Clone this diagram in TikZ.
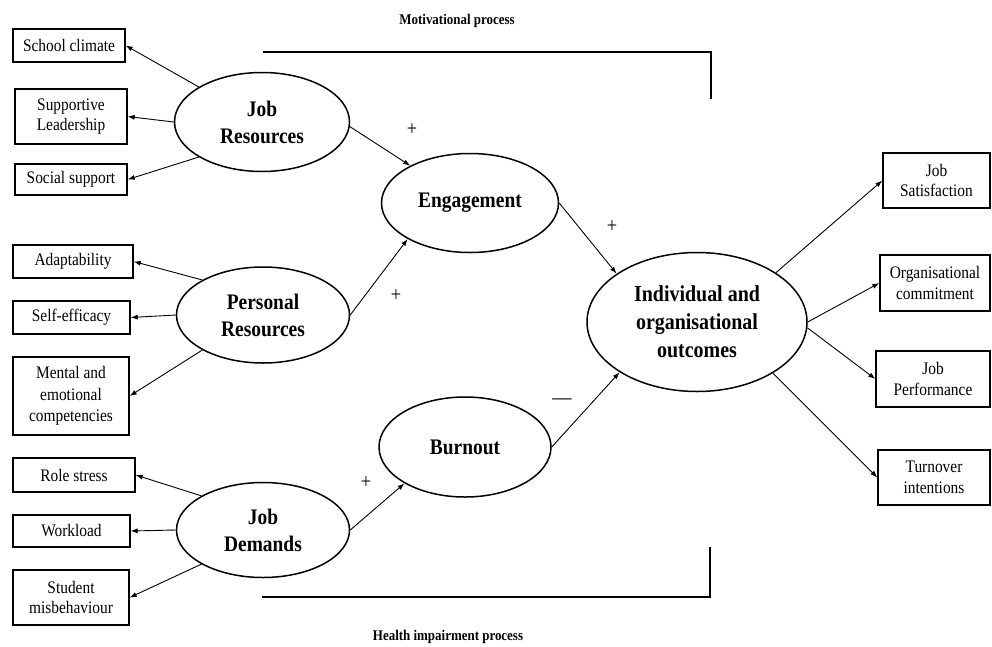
\documentclass[tikz,border=0pt]{standalone}
\usepackage{fontspec}
\setmainfont{Liberation Serif}[FakeStretch=0.875]
\usetikzlibrary{shapes.geometric,arrows.meta}

\tikzset{
  itembox/.style={draw, line width=1.3pt, rectangle, inner sep=0pt, align=center,
    font=\fontsize{17.6}{20.5}\selectfont},
  construct/.style={draw, line width=1.5pt, ellipse, inner sep=0pt, align=center,
    font=\fontsize{22.2}{27}\selectfont\bfseries},
  link/.style={line width=0.9pt, -{Latex[length=7pt,width=5pt]}},
  bracket/.style={line width=1.3pt},
  sign/.style={font=\fontsize{21}{21}\selectfont},
  caption/.style={font=\fontsize{14.8}{15}\selectfont\bfseries}
}

\begin{document}
\begin{tikzpicture}[x=1pt,y=-1pt]
\useasboundingbox (0,0) rectangle (992,646);

% latent constructs
\node[construct, minimum width=175pt, minimum height=99pt] (jr) at (262,122) {Job\\Resources};
\node[construct, minimum width=173pt, minimum height=96pt] (pr) at (263,315) {Personal\\Resources};
\node[construct, minimum width=173pt, minimum height=95pt] (jd) at (263,530) {Job\\Demands};
\node[construct, minimum width=177pt, minimum height=99pt] (eng) at (470,203) {Engagement};
\node[construct, minimum width=172pt, minimum height=100pt] (bo) at (465,447) {Burnout};
\node[construct, minimum width=220pt, minimum height=139pt, font=\fontsize{22.8}{28}\selectfont\bfseries] (ind) at (697,322) {Individual and\\organisational\\outcomes};

% indicators on the left
\node[itembox, minimum width=112pt, minimum height=33pt] (sc) at (69,45.5) {School climate};
\node[itembox, minimum width=112pt, minimum height=55pt] (sl) at (71,116.5) {Supportive\\Leadership};
\node[itembox, minimum width=112pt, minimum height=31pt] (ss) at (71,179.5) {Social support};
\node[itembox, minimum width=120pt, minimum height=33pt] (ad) at (73,261.5) {Adaptability};
\node[itembox, minimum width=117pt, minimum height=33pt] (se) at (71.5,317.5) {Self-efficacy};
\node[itembox, minimum width=116pt, minimum height=78pt, font=\fontsize{17.6}{21.5}\selectfont] (me) at (71,396) {Mental and\\emotional\\competencies};
\node[itembox, minimum width=122pt, minimum height=34pt] (rs) at (74,475) {Role stress};
\node[itembox, minimum width=117pt, minimum height=32pt] (wl) at (71.5,531) {Workload};
\node[itembox, minimum width=116pt, minimum height=55pt] (sm) at (71,597.5) {Student\\misbehaviour};

% outcomes on the right
\node[itembox, minimum width=107pt, minimum height=55pt] (js) at (936.5,180.5) {Job\\Satisfaction};
\node[itembox, minimum width=110pt, minimum height=56pt] (oc) at (935,283) {Organisational\\commitment};
\node[itembox, minimum width=114pt, minimum height=56pt] (jp) at (933,379) {Job\\Performance};
\node[itembox, minimum width=112pt, minimum height=55pt] (ti) at (934,477.5) {Turnover\\intentions};

% constructs to indicators
\draw[link] (jr.151) -- (sc.east);
\draw[link] (jr.west) -- (sl.east);
\draw[link] (jr.209) -- (ss.east);
\draw[link] (pr.150) -- (ad.east);
\draw[link] (pr.west) -- (se.east);
\draw[link] (pr.210) -- (me.east);
\draw[link] (jd.151) -- (rs.east);
\draw[link] (jd.west) -- (wl.east);
\draw[link] (jd.209) -- (sm.east);

% structural paths
\draw[link] (jr.-3) -- (eng.148);
\draw[link] (pr.east) -- (eng.210);
\draw[link] (jd.east) -- (bo.211);
\draw[link] (eng.east) -- (ind.149);
\draw[link] (bo.east) -- (ind.213);

% outcome paths
\draw[link] (ind.32) -- (js.west);
\draw[link] (ind.east) -- (oc.west);
\draw[link] (ind.-3) -- (jp.west);
\draw[link] (ind.-34) -- (ti.west);

% path signs
\node[sign] (p1) at (412,130) {+};
\node[sign] (p2) at (396,296) {+};
\node[sign] (p3) at (612,227) {+};
\node[sign] (p4) at (366,483) {+};
\node[font=\fontsize{22}{22}\selectfont] (m1) at (562,402) {\textemdash};

% process brackets
\coordinate (mA) at (263,52);
\coordinate (mB) at (711,52);
\coordinate (mC) at (711,99);
\draw[bracket] (mA) -- (mB) -- (mC);
\coordinate (hA) at (262,597);
\coordinate (hB) at (710,597);
\coordinate (hC) at (710,547);
\draw[bracket] (hA) -- (hB) -- (hC);

\node[caption] (mot) at (457,21) {Motivational process};
\node[caption] (hip) at (448,637) {Health impairment process};
\end{tikzpicture}
\end{document}
